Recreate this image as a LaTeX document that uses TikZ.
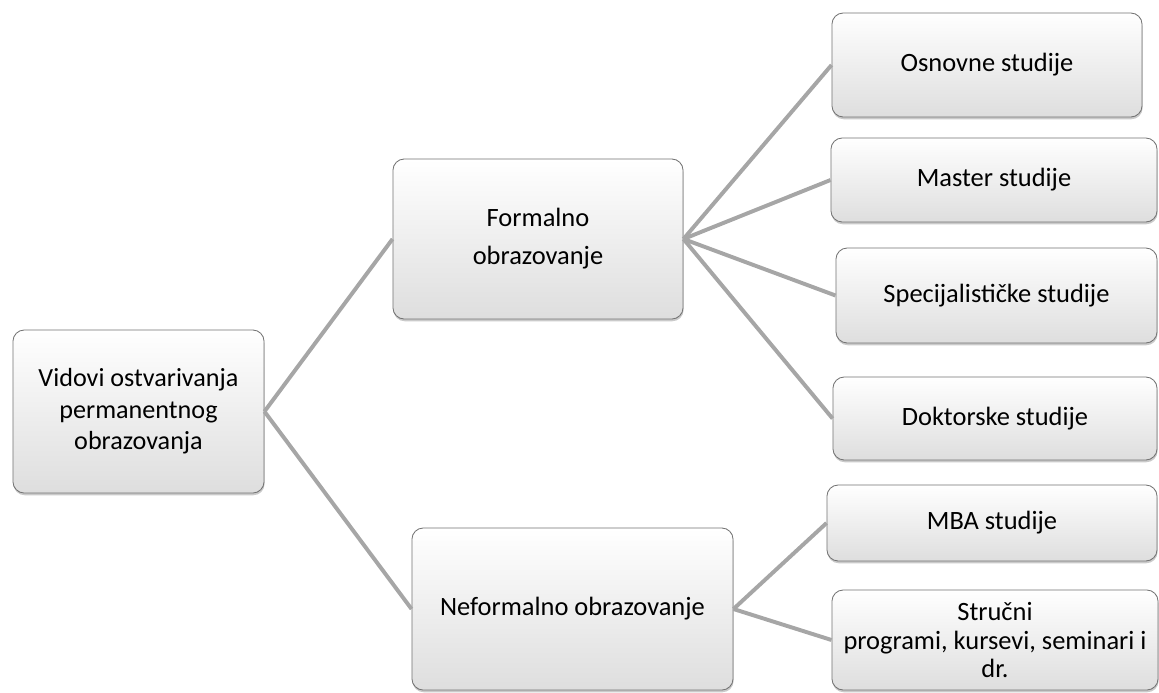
\documentclass[tikz,border=0pt]{standalone}
\usepackage{fontspec}
\setmainfont{Carlito}
\usetikzlibrary{shadows}

\begin{document}
\begin{tikzpicture}[
    x=0.025cm, y=-0.025cm,
    box/.style={draw=black!55, line width=0.6pt, rounded corners=8pt,
      top color=white, bottom color=black!13, align=center, inner sep=2pt,
      font=\fontsize{18.8}{23}\selectfont,
      drop shadow={shadow xshift=0.4pt, shadow yshift=-1.6pt, opacity=0.35, fill=black!60}},
    link/.style={draw=black!35, line width=2.8pt}
]
  \useasboundingbox (0,0) rectangle (1159,692);

  % left and middle column
  \node[box, minimum width=6.275cm, minimum height=4.075cm,
    font=\fontsize{18.6}{22.5}\selectfont] (root) at (138.5,411.5)
    {Vidovi ostvarivanja\\permanentnog\\obrazovanja};
  \node[box, minimum width=7.25cm, minimum height=4.0cm,
    font=\fontsize{18.8}{27}\selectfont] (formal) at (538,239)
    {Formalno\\obrazovanje};
  \node[box, minimum width=8.025cm, minimum height=4.05cm] (neformal) at (572.5,609)
    {Neformalno obrazovanje};

  % right column
  \node[box, minimum width=7.75cm, minimum height=2.6cm] (osnovne) at (987,65) {Osnovne studije};
  \node[box, minimum width=8.15cm, minimum height=2.1cm] (master) at (994,180) {Master studije};
  \node[box, minimum width=8.025cm, minimum height=2.375cm] (spec) at (996.5,295.5) {Specijalističke studije};
  \node[box, minimum width=8.1cm, minimum height=2.075cm] (doktor) at (995,418.5) {Doktorske studije};
  \node[box, minimum width=8.25cm, minimum height=1.9cm] (mba) at (992,523) {MBA studije};
  \node[box, minimum width=8.15cm, minimum height=2.5cm,
    font=\fontsize{18.8}{20.5}\selectfont] (strucni) at (995,640)
    {Stručni\\programi, kursevi, seminari i\\dr.};

  \foreach \c/\d in {root/formal,root/neformal,formal/osnovne,formal/master,
                     formal/spec,formal/doktor,neformal/mba,neformal/strucni} {
    \draw[link] (\c.east) -- (\d.west);
  }
\end{tikzpicture}
\end{document}
